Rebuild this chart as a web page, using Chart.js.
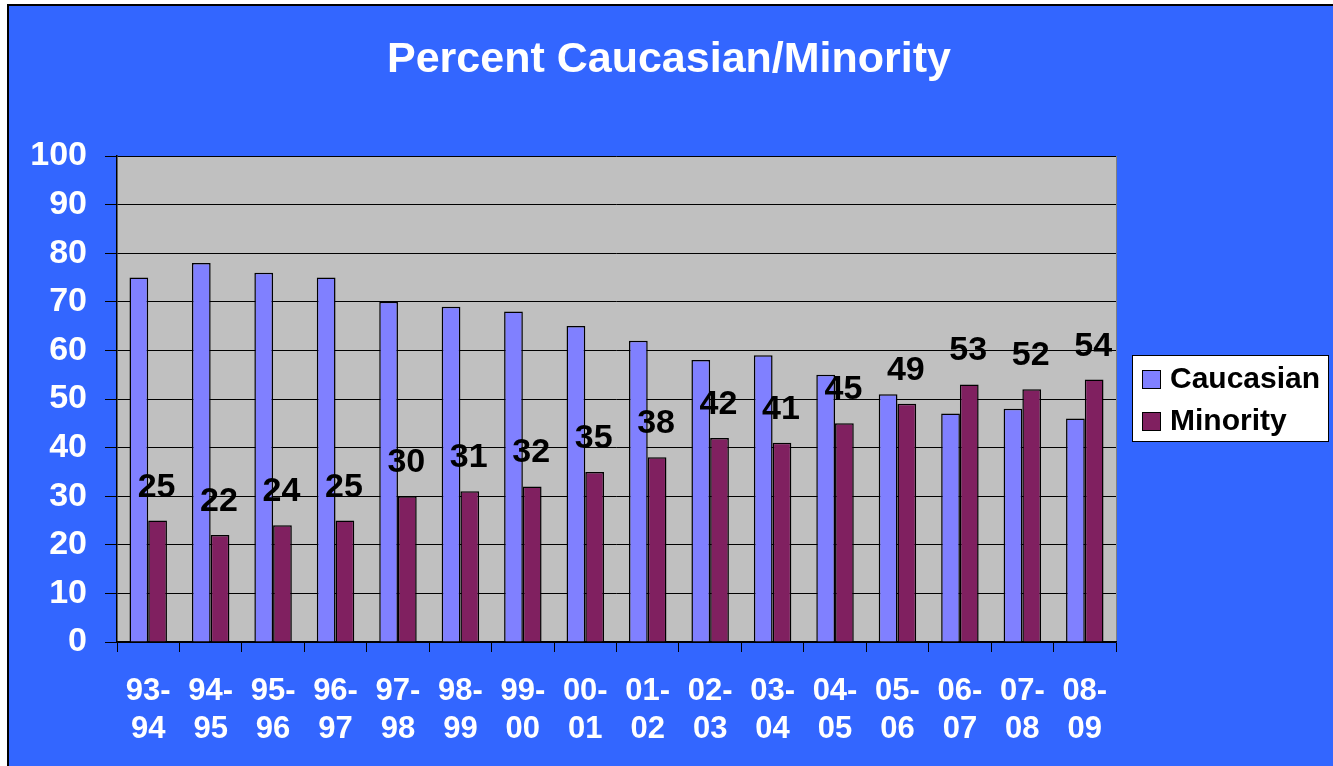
<!DOCTYPE html>
<html>
<head>
<meta charset="utf-8">
<script src="https://cdn.jsdelivr.net/npm/chart.js@4.4.1/dist/chart.umd.min.js"></script>
<style>
  html, body { margin: 0; padding: 0; background: #ffffff; overflow: hidden; }
  #bg {
    position: absolute; left: 7px; top: 4px; right: 0; bottom: 0;
    background: #3366ff; border-left: 2px solid #000; border-top: 2px solid #000;
  }
  #wrap { position: absolute; left: 0; top: 0; width: 1333px; height: 766px; }
</style>
</head>
<body>
<div id="bg"></div>
<div id="wrap"><canvas id="chart"></canvas></div>
<script>
// Chart values
const years = [['93-', '94'], ['94-', '95'], ['95-', '96'], ['96-', '97'], ['97-', '98'], ['98-', '99'],
               ['99-', '00'], ['00-', '01'], ['01-', '02'], ['02-', '03'], ['03-', '04'], ['04-', '05'],
               ['05-', '06'], ['06-', '07'], ['07-', '08'], ['08-', '09']];
const caucasian = [75, 78, 76, 75, 70, 69, 68, 65, 62, 58, 59, 55, 51, 47, 48, 46];
const minority = [25, 22, 24, 25, 30, 31, 32, 35, 38, 42, 41, 45, 49, 53, 52, 54];
const seriesNames = ['Caucasian', 'Minority'];
const seriesColors = ['#8080ff', '#802060'];
const chartTitle = 'Percent Caucasian/Minority';

const FONT = '"Liberation Sans", Arial, sans-serif';

// grey plot area with a thin border on the right
const plotBackground = {
    id: 'plotBackground',
    beforeDraw(chart) {
        const a = chart.chartArea;
        const ctx = chart.ctx;
        ctx.save();
        ctx.fillStyle = '#c0c0c0';
        ctx.fillRect(a.left, a.top, a.right - a.left, a.bottom - a.top);
        ctx.strokeStyle = '#808080';
        ctx.lineWidth = 1;
        ctx.beginPath();
        ctx.moveTo(a.right + 0.5, a.top);
        ctx.lineTo(a.right + 0.5, a.bottom);
        ctx.stroke();
        ctx.restore();
    }
};

// title, minority value labels and the boxed legend
const extras = {
    id: 'extras',
    afterDatasetsDraw(chart) {
        const ctx = chart.ctx;
        ctx.save();
        // title
        ctx.fillStyle = '#ffffff';
        ctx.font = 'bold 43px ' + FONT;
        ctx.textAlign = 'center';
        ctx.textBaseline = 'alphabetic';
        ctx.fillText(chartTitle, 669, 72);

        // value labels above the minority bars
        const meta = chart.getDatasetMeta(1);
        ctx.fillStyle = '#000000';
        ctx.font = 'bold 34px ' + FONT;
        meta.data.forEach((bar, i) => {
            ctx.fillText(String(minority[i]), bar.x - 1, bar.y - 24);
        });

        // legend box
        const lx = 1132, ly = 355, lw = 196, lh = 86;
        ctx.fillStyle = '#ffffff';
        ctx.fillRect(lx, ly, lw, lh);
        ctx.strokeStyle = '#000000';
        ctx.lineWidth = 1;
        ctx.strokeRect(lx + 0.5, ly + 0.5, lw, lh);
        ctx.font = 'bold 30px ' + FONT;
        ctx.textAlign = 'left';
        ctx.textBaseline = 'middle';
        seriesNames.forEach((name, i) => {
            const cy = 379 + i * 42;
            ctx.fillStyle = seriesColors[i];
            ctx.fillRect(lx + 10, cy - 9, 19, 19);
            ctx.strokeRect(lx + 10.5, cy - 8.5, 18, 18);
            ctx.fillStyle = '#000000';
            ctx.fillText(name, lx + 38, cy + 1);
        });
        ctx.restore();
    }
};

const ctx = document.getElementById('chart').getContext('2d');
new Chart(ctx, {
    type: 'bar',
    data: {
        labels: years,
        datasets: [
            { label: seriesNames[0], data: caucasian, backgroundColor: seriesColors[0] },
            { label: seriesNames[1], data: minority, backgroundColor: seriesColors[1] }
        ]
    },
    options: {
        responsive: true,
        maintainAspectRatio: false,
        animation: false,
        events: [],
        layout: { padding: { left: 0, top: 156, right: 217, bottom: 0 } },
        datasets: {
            bar: {
                categoryPercentage: 0.6,
                barPercentage: 1.0,
                borderColor: '#000000',
                borderWidth: 1.5,
                borderSkipped: 'start'
            }
        },
        plugins: {
            legend: { display: false },
            title: { display: false },
            tooltip: { enabled: false }
        },
        scales: {
            x: {
                grid: {
                    display: true,
                    drawOnChartArea: false,
                    drawTicks: true,
                    tickLength: 10,
                    color: '#000000'
                },
                border: { color: '#000000', width: 1.5 },
                ticks: {
                    color: '#ffffff',
                    font: { family: FONT, size: 31, weight: 'bold', lineHeight: 1.22 },
                    padding: 21,
                    maxRotation: 0,
                    autoSkip: false
                },
                afterFit(scale) { scale.height = 124; }
            },
            y: {
                min: 0,
                max: 100,
                grid: {
                    color: '#000000',
                    lineWidth: 1,
                    drawTicks: true,
                    tickLength: 12
                },
                border: { color: '#000000', width: 1.5 },
                ticks: {
                    stepSize: 10,
                    color: '#ffffff',
                    font: { family: FONT, size: 34, weight: 'bold' },
                    padding: 18
                },
                afterFit(scale) { scale.width = 117; }
            }
        }
    },
    plugins: [plotBackground, extras]
});
</script>
</body>
</html>
